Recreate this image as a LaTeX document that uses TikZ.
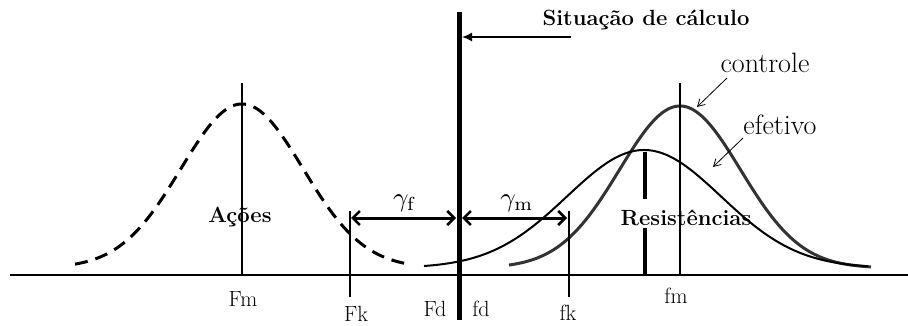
\documentclass[tikz,border=0pt]{standalone}
\usepackage{graphicx}
\usetikzlibrary{arrows.meta}
\begin{document}
\begin{tikzpicture}[x=1pt,y=-1pt,
  lbl/.style={inner sep=0pt,font=\fontsize{22}{24}\selectfont},
  gam/.style={inner sep=0pt},
  bold/.style={inner sep=0pt,font=\fontsize{22}{24}\selectfont\bfseries},
  word/.style={inner sep=0pt,font=\fontsize{28}{30}\selectfont},
  dbl/.style={line width=3pt,{Straight Barb[length=7pt,width=14pt,line width=2.5pt]}-{Straight Barb[length=7pt,width=14pt,line width=2.5pt]}},
  thinarrow/.style={line width=0.8pt,-{Straight Barb[length=7pt,width=8pt]}},
  guide/.style={line width=1.2pt}]
\useasboundingbox (0,0) rectangle (908,326);
% axis
\coordinate (axL) at (10,275);
\coordinate (axR) at (908,275);
\draw[line width=1.4pt] (axL) -- (axR);
% curves
\draw[line width=3pt,dash pattern=on 13pt off 8pt]
  plot[domain=75:405,samples=120] (\x,{268-164*exp(-0.5*(\x-242)/61*(\x-242)/61)});
\draw[line width=3pt,black!80]
  plot[domain=509:871,samples=140] (\x,{268-162*exp(-0.5*(\x-680)/60.5*(\x-680)/60.5)});
\draw[line width=2pt]
  plot[domain=424:868,samples=160] (\x,{268-118*exp(-0.5*(\x-644)/77*(\x-644)/77)});
% vertical lines
\coordinate (FmT) at (242,83);  \coordinate (FmB) at (242,275);
\coordinate (fmT) at (680,83);  \coordinate (fmB) at (680,275);
\coordinate (FkT) at (350,211); \coordinate (FkB) at (350,297);
\coordinate (fkT) at (569,211); \coordinate (fkB) at (569,297);
\coordinate (sT) at (459,12);   \coordinate (sB) at (459,320);
\coordinate (eT) at (645,152);  \coordinate (eM1) at (645,199);
\coordinate (eM2) at (645,228); \coordinate (eB) at (645,275);
\draw[guide] (FmT) -- (FmB);
\draw[guide] (fmT) -- (fmB);
\draw[line width=1.4pt] (FkT) -- (FkB);
\draw[line width=1.4pt] (fkT) -- (fkB);
\draw[line width=5pt] (sT) -- (sB);
\draw[line width=4pt] (eT) -- (eM1);
\draw[line width=4pt] (eM2) -- (eB);
% gamma arrows
\coordinate (gfL) at (351,218); \coordinate (gfR) at (456,218);
\coordinate (gmL) at (462,218); \coordinate (gmR) at (567,218);
\draw[dbl] (gfL) -- (gfR);
\draw[dbl] (gmL) -- (gmR);
\node[gam] (gf) at (405,203) {\scalebox{2.7}{$\gamma_{\mathrm f}$}};
\node[gam] (gm) at (517,203) {\scalebox{2.7}{$\gamma_{\mathrm m}$}};
% labels on axis
\node[lbl] (Fm) at (243,299) {Fm};
\node[lbl] (Fk) at (356,314) {Fk};
\node[lbl] (Fd) at (435,309) {Fd};
\node[lbl] (fd) at (481,309) {fd};
\node[lbl] (fk) at (568,313) {fk};
\node[lbl] (fm) at (676,296) {fm};
% bold labels
\node[bold] (acoes) at (240,217) {Ações};
\node[bold] (res) at (686,218) {Resistências};
\node[bold] (sit) at (646,20) {Situação de cálculo};
\coordinate (sitS) at (571,37);
\coordinate (sitE) at (462,37);
\draw[line width=1.6pt,-{Latex[length=10pt,width=9pt]}] (sitS) -- (sitE);
% controle / efetivo
\node[word] (ctl) at (765,63) {controle};
\node[word] (efe) at (780,125) {efetivo};
\coordinate (ctlA) at (727,78);  \coordinate (ctlB) at (697,107);
\coordinate (efeA) at (743,138); \coordinate (efeB) at (713,167);
\draw[thinarrow] (ctlA) -- (ctlB);
\draw[thinarrow] (efeA) -- (efeB);
\end{tikzpicture}
\end{document}
